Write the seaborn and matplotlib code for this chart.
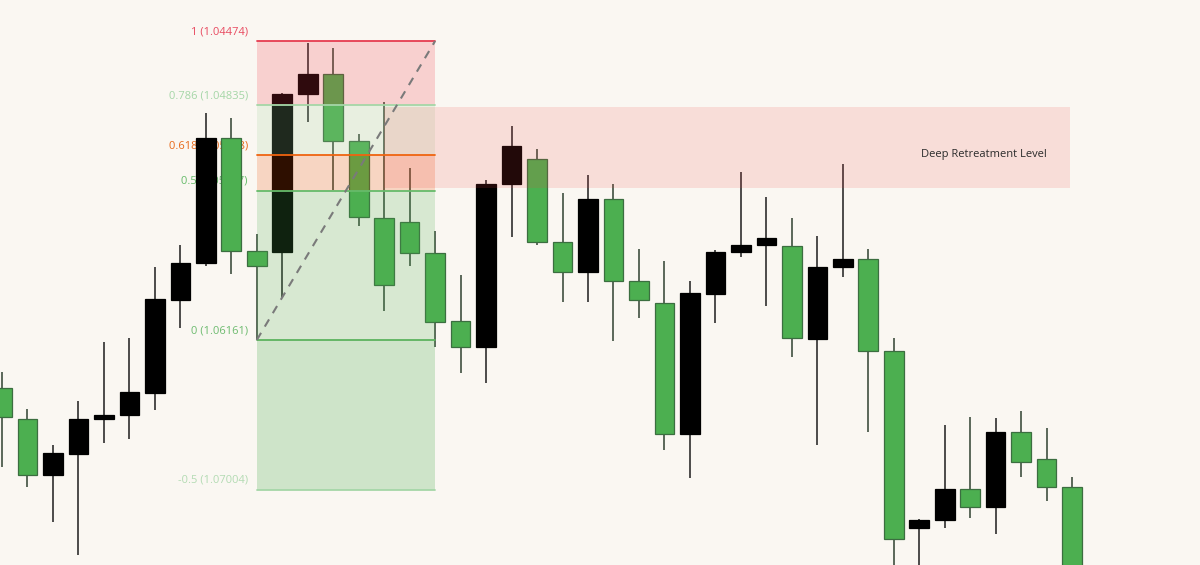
import numpy as np
import pandas as pd
import matplotlib
matplotlib.use("Agg")
import matplotlib.pyplot as plt
import seaborn as sns

# candle prices (price scale is inverted on screen)
opens = [1.06432, 1.06607, 1.06923, 1.06804, 1.06607, 1.06584, 1.06460, 1.05935, 1.05727, 1.05021,
         1.05659, 1.05665, 1.04773, 1.04660, 1.05038, 1.05473, 1.05495, 1.05670, 1.06054, 1.06200,
         1.05281, 1.05140, 1.05608, 1.05777, 1.05366, 1.05828, 1.05952, 1.06691, 1.05902, 1.05665,
         1.05625, 1.05631, 1.06155, 1.05749, 1.05704, 1.06223, 1.07222, 1.07177, 1.07002, 1.07103,
         1.06680, 1.06832, 1.06990]
closes = [1.06595, 1.06923, 1.06799, 1.06607, 1.06584, 1.06454, 1.05930, 1.05727, 1.05021, 1.05659,
          1.05744, 1.04773, 1.04660, 1.05038, 1.05467, 1.05851, 1.05670, 1.06059, 1.06200, 1.05281,
          1.05066, 1.05608, 1.05777, 1.05366, 1.05828, 1.05935, 1.06691, 1.05896, 1.05665, 1.05625,
          1.05586, 1.06150, 1.05749, 1.05704, 1.06223, 1.07284, 1.07177, 1.07002, 1.07103, 1.06680,
          1.06849, 1.06990, 1.07600]
lows = [1.06342, 1.06550, 1.06753, 1.06505, 1.06172, 1.06150, 1.05749, 1.05625, 1.04880, 1.04908,
        1.05563, 1.04767, 1.04485, 1.04513, 1.04999, 1.04818, 1.05191, 1.05546, 1.05794, 1.05258,
        1.04954, 1.05083, 1.05332, 1.05230, 1.05281, 1.05648, 1.05715, 1.05828, 1.05653, 1.05213,
        1.05354, 1.05473, 1.05574, 1.05168, 1.05648, 1.06150, 1.07171, 1.06641, 1.06595, 1.06601,
        1.06562, 1.06658, 1.06934]
highs = [1.06878, 1.06990, 1.07188, 1.07374, 1.06742, 1.06720, 1.06556, 1.06093, 1.05744, 1.05789,
         1.06161, 1.05918, 1.04931, 1.05315, 1.05518, 1.05997, 1.05744, 1.06200, 1.06347, 1.06404,
         1.05580, 1.05625, 1.05947, 1.05947, 1.06167, 1.06037, 1.06782, 1.06940, 1.06065, 1.05693,
         1.05969, 1.06257, 1.06753, 1.05806, 1.06680, 1.07628, 1.07600, 1.07222, 1.07165, 1.07256,
         1.06934, 1.07069, 1.07650]

# fibonacci retracement: level 0 anchored at candle 10, level 1 at candle 17
fib_start, fib_end = 10, 17
fib_price0, fib_price1 = 1.06161, 1.04474
fib_levels = [1, 0.786, 0.618, 0.5, 0, -0.5]
fib_line_colors = ["#e63c50", "#a5d6a7", "#ef6410", "#66bb6a", "#5cb35e", "#a5d6a7"]
fib_text_colors = ["#e84a60", "#a5d6a7", "#e86a1a", "#66bb6a", "#6dbb6f", "#b3dbb3"]
fib_zone_colors = ["#f03443", "#a0cf98", "#eb4f05", "#4caf50", "#4caf50"]
fib_zone_alphas = [0.2, 0.2, 0.2, 0.2, 0.25]

# deep retracement box
box_start, box_end = 15, 41.9
box_top, box_bottom = 1.04846, 1.05303
box_label = "Deep Retreatment Level"
box_label_x, box_label_price = 38.55, 1.05112

df = pd.DataFrame({"open": opens, "close": closes, "low": lows, "high": highs})
df["idx"] = np.arange(len(df))
df["up"] = df["close"] > df["open"]

bg = "#faf7f2"
sns.set_theme(style="white", rc={"figure.facecolor": bg, "axes.facecolor": bg})
plt.rcParams["font.family"] = ["Open Sans", "DejaVu Sans"]

fig = plt.figure(figsize=(12, 5.65), dpi=100)
ax = fig.add_axes([0, 0, 1, 1])
ax.set_facecolor(bg)

# wicks and bodies
wick_col = np.where(df["up"], "#3f4f40", "#2e2e2e")
ax.vlines(df["idx"], df["low"], df["high"], colors=wick_col, lw=1.2, zorder=2)
body_col = np.where(df["up"], "#4caf50", "#000000")
edge_col = np.where(df["up"], "#3b6e40", "#000000")
ax.bar(df["idx"], df["close"] - df["open"], bottom=df["open"], width=0.77,
       color=body_col, edgecolor=edge_col, linewidth=0.9, zorder=2)

# fib zones, lines and labels (labels sit just above their line)
fib_prices = [fib_price0 - lv * (fib_price0 - fib_price1) for lv in fib_levels]
for i in range(len(fib_levels) - 1):
    ax.fill_between([fib_start, fib_end], fib_prices[i], fib_prices[i + 1],
                    color=fib_zone_colors[i], alpha=fib_zone_alphas[i], lw=0, zorder=3)
for lv, pr, lc, tc in zip(fib_levels, fib_prices, fib_line_colors, fib_text_colors):
    ax.plot([fib_start, fib_end], [pr, pr], color=lc, lw=1.3, zorder=4)
    ax.annotate(f"{lv:g} ({pr:.5f})", (fib_start - 0.35, pr), xytext=(0, 6.5),
                textcoords="offset points", color=tc, fontsize=8,
                ha="right", va="center", zorder=1)

ax.plot([fib_start, fib_end], [fib_price0, fib_price1], color="#7a7a7a", lw=1.5,
        dashes=(4, 3.5), zorder=5)

ax.fill_between([box_start, box_end], box_top, box_bottom, color="#f24040",
                alpha=0.14, lw=0, zorder=3)
ax.text(box_label_x, box_label_price, box_label, color="#2b2b2b",
        fontsize=8, ha="center", va="center", zorder=6)

ax.set_xlim(-0.0785, 47.02)
ax.set_ylim(1.074304, 1.042427)
ax.axis("off")

fig.savefig("out.png", dpi=100, facecolor=bg)
